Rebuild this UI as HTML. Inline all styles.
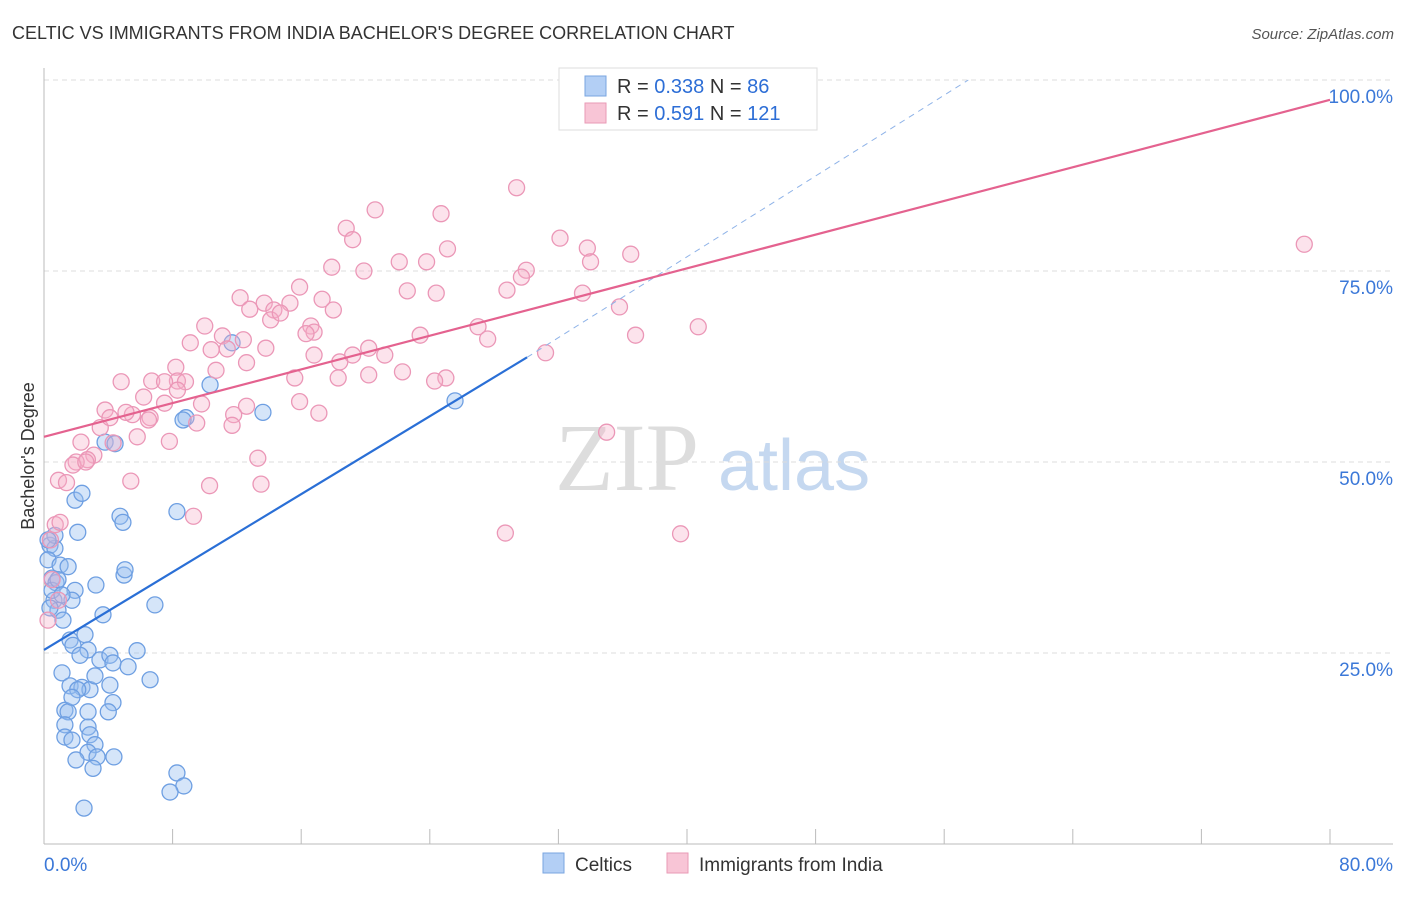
<!DOCTYPE html>
<html><head><meta charset="utf-8"><style>
body{margin:0;background:#fff;font-family:"Liberation Sans",sans-serif;}
#wrap{position:relative;width:1406px;height:892px;}
</style></head><body>
<div id="wrap">
<svg id="svg" width="1406" height="892" xmlns="http://www.w3.org/2000/svg">
<text x="12" y="39" font-size="18" fill="#333">CELTIC VS IMMIGRANTS FROM INDIA BACHELOR'S DEGREE CORRELATION CHART</text>
<text x="1394" y="39" font-size="15" fill="#555" text-anchor="end" font-style="italic">Source: ZipAtlas.com</text>
<text x="34" y="456" font-size="18" fill="#333" text-anchor="middle" transform="rotate(-90 34 456)">Bachelor's Degree</text>
<text x="555" y="490" font-size="96" fill="#ddd" font-family="Liberation Serif">ZIP</text>
<text x="718" y="490" font-size="72" fill="#c5d8f0">atlas</text>
<g id="grid"></g><g id="pts"></g><g id="lines"></g>
<g>
<rect x="559" y="68" width="258" height="62" fill="#fff" stroke="#ddd"/>
<rect x="585" y="76" width="21" height="20" fill="#b3cff5" stroke="#7aa5e0"/>
<rect x="585" y="103" width="21" height="20" fill="#f8c5d6" stroke="#e99ab6"/>
<text x="617" y="93" font-size="20" fill="#333">R = <tspan fill="#2d6ed6">0.338</tspan>   N = <tspan fill="#2d6ed6"> 86</tspan></text>
<text x="617" y="120" font-size="20" fill="#333">R = <tspan fill="#2d6ed6"> 0.591</tspan>   N = <tspan fill="#2d6ed6">121</tspan></text>
</g>
<g>
<rect x="543" y="853" width="21" height="20" fill="#b3cff5" stroke="#7aa5e0"/>
<text x="575" y="871" font-size="19" fill="#333">Celtics</text>
<rect x="667" y="853" width="21" height="20" fill="#f8c5d6" stroke="#e99ab6"/>
<text x="699" y="871" font-size="19" fill="#333">Immigrants from India</text>
</g>
</svg></div>
<script>
const xTicks=[0,8,16,24,32,40,48,56,64,72,80];
const yTicks=[25,50,75,100];
const blueX=[0.37,0.68,0.25,0.5,0.75,1.0,1.5,0.62,0.87,0.37,1.18,1.93,2.36,2.1,0.68,3.23,1.93,1.74,3.67,1.62,2.55,1.8,2.74,2.24,1.12,1.62,2.36,2.86,2.1,3.17,3.48,4.1,4.29,5.23,5.79,4.1,6.6,1.3,1.5,2.74,4.29,4.0,1.3,2.74,1.3,1.74,2.86,3.17,2.74,1.99,3.3,4.35,3.05,2.49,4.98,5.04,6.9,4.73,4.91,8.27,3.8,4.42,10.33,11.7,8.83,8.65,13.62,25.57,8.27,8.7,7.84,1.74,0.5,0.87,1.12,0.25];
const blueY=[39.1,38.7,37.2,34.8,34.2,36.5,36.3,31.9,30.6,30.9,29.3,45.0,45.9,40.8,40.4,33.9,33.2,31.9,30.0,26.7,27.4,26.0,25.4,24.7,22.4,20.7,20.5,20.2,20.2,22.0,24.1,24.7,23.7,23.2,25.3,20.8,21.5,17.5,17.3,17.3,18.5,17.3,15.6,15.3,14.0,13.6,14.3,13.0,12.0,11.0,11.4,11.4,9.9,4.7,35.2,35.9,31.3,42.9,42.1,43.5,52.6,52.4,60.1,65.6,55.8,55.5,56.5,58.0,9.3,7.6,6.8,19.2,33.2,34.6,32.6,39.8];
const pinkX=[78.4,29.4,20.6,24.7,18.8,19.2,25.1,32.1,33.8,34.0,36.5,22.1,23.8,17.9,19.9,30.0,29.7,22.6,24.4,28.8,33.5,15.9,12.2,13.7,15.3,17.3,14.3,18.0,12.8,14.1,14.7,35.8,40.7,36.8,27.0,27.6,23.4,10.0,11.1,12.4,16.6,16.8,16.3,9.1,11.4,10.4,13.8,20.2,19.2,16.8,21.2,31.2,18.4,10.7,12.6,15.6,22.3,18.3,20.2,25.0,24.3,8.2,8.3,6.7,7.5,8.8,4.8,8.3,6.2,7.5,9.8,12.6,15.9,17.1,11.8,3.8,3.5,5.5,5.1,6.6,4.1,6.5,9.5,11.7,4.3,5.8,2.3,7.8,3.1,2.7,2.0,1.8,2.6,0.9,1.4,5.4,10.3,13.5,13.3,9.3,35.0,28.7,39.6,0.7,1.0,0.4,0.5,0.25,0.9];
const pinkY=[78.5,85.9,83.0,82.5,80.6,79.1,77.9,79.3,78.0,76.2,77.2,76.2,76.2,75.5,75.0,75.1,74.2,72.4,72.1,72.5,72.1,72.9,71.5,70.8,70.8,71.3,69.9,69.9,70.0,68.6,69.5,70.3,67.7,66.6,67.7,66.1,66.6,67.8,66.5,66.0,67.8,67.0,66.8,65.6,64.8,64.7,64.9,64.9,64.0,64.0,64.0,64.3,63.1,62.0,63.0,61.0,61.8,61.0,61.4,61.0,60.6,62.4,60.6,60.6,60.5,60.5,60.5,59.4,58.5,57.7,57.6,57.3,57.9,56.4,56.2,56.8,54.5,56.2,56.5,55.8,55.8,55.5,55.1,54.8,52.5,53.3,52.6,52.7,50.9,50.3,50.0,49.6,50.0,47.6,47.3,47.5,46.9,47.1,50.5,42.9,53.9,40.7,40.6,41.8,42.1,39.8,34.6,29.3,31.9];
const blueLine=[0,25.4,30.05,63.7,57.5,100];
const pinkLine=[0,53.3,80,97.4];
const NS="http://www.w3.org/2000/svg";
const X=v=>44+v*16.075, Y=v=>844-v*7.64;
function mk(tag,attrs,parent){const e=document.createElementNS(NS,tag);for(const k in attrs)e.setAttribute(k,attrs[k]);parent.appendChild(e);return e;}
const grid=document.getElementById('grid'),pts=document.getElementById('pts'),lines=document.getElementById('lines');
yTicks.forEach(t=>{
 const l=mk('line',{x1:44,x2:1393,y1:Y(t),y2:Y(t),stroke:'#ddd','stroke-dasharray':'5,4'},grid);
 
 
 const tx=mk('text',{x:1393,y:Y(t)+23,'font-size':19,fill:'#3b78d8','text-anchor':'end'},grid);
 tx.textContent=t.toFixed(1)+'%';
 
 
});
const ax=mk('line',{x1:44,x2:44,y1:68,y2:844,stroke:'#bbb'},grid);


const bx=mk('line',{x1:44,x2:1393,y1:844,y2:844,stroke:'#bbb'},grid);


xTicks.forEach(t=>{
 const l=mk('line',{x1:X(t),x2:X(t),y1:829,y2:844,stroke:'#bbb'},grid);
 
 
});
[[0,'start'],[80,'end']].forEach(([t,a])=>{
 const tx=mk('text',{x:t===0?44:1393,y:871,'font-size':19,fill:'#3b78d8','text-anchor':a},grid);
 tx.textContent=t.toFixed(1)+'%';
 
 
});
blueX.forEach((v,i)=>{
 const c=mk('circle',{cx:X(v),cy:Y(blueY[i]),r:8,fill:'rgba(150,190,240,0.4)',stroke:'#6e9fe2','stroke-width':1.3},pts);
 
 
});
pinkX.forEach((v,i)=>{
 const c=mk('circle',{cx:X(v),cy:Y(pinkY[i]),r:8,fill:'rgba(245,175,200,0.35)',stroke:'#eb97b7','stroke-width':1.3},pts);
 
 
});
const b1=mk('line',{x1:X(blueLine[0]),y1:Y(blueLine[1]),x2:X(blueLine[2]),y2:Y(blueLine[3]),stroke:'#2a6fd6','stroke-width':2.2},lines);


const b2=mk('line',{x1:X(blueLine[2]),y1:Y(blueLine[3]),x2:X(blueLine[4]),y2:Y(blueLine[5]),stroke:'#8fb3e8','stroke-width':1,'stroke-dasharray':'6,5'},lines);


const p1=mk('line',{x1:X(pinkLine[0]),y1:Y(pinkLine[1]),x2:X(pinkLine[2]),y2:Y(pinkLine[3]),stroke:'#e4628f','stroke-width':2.2},lines);


</script>
</body></html>
